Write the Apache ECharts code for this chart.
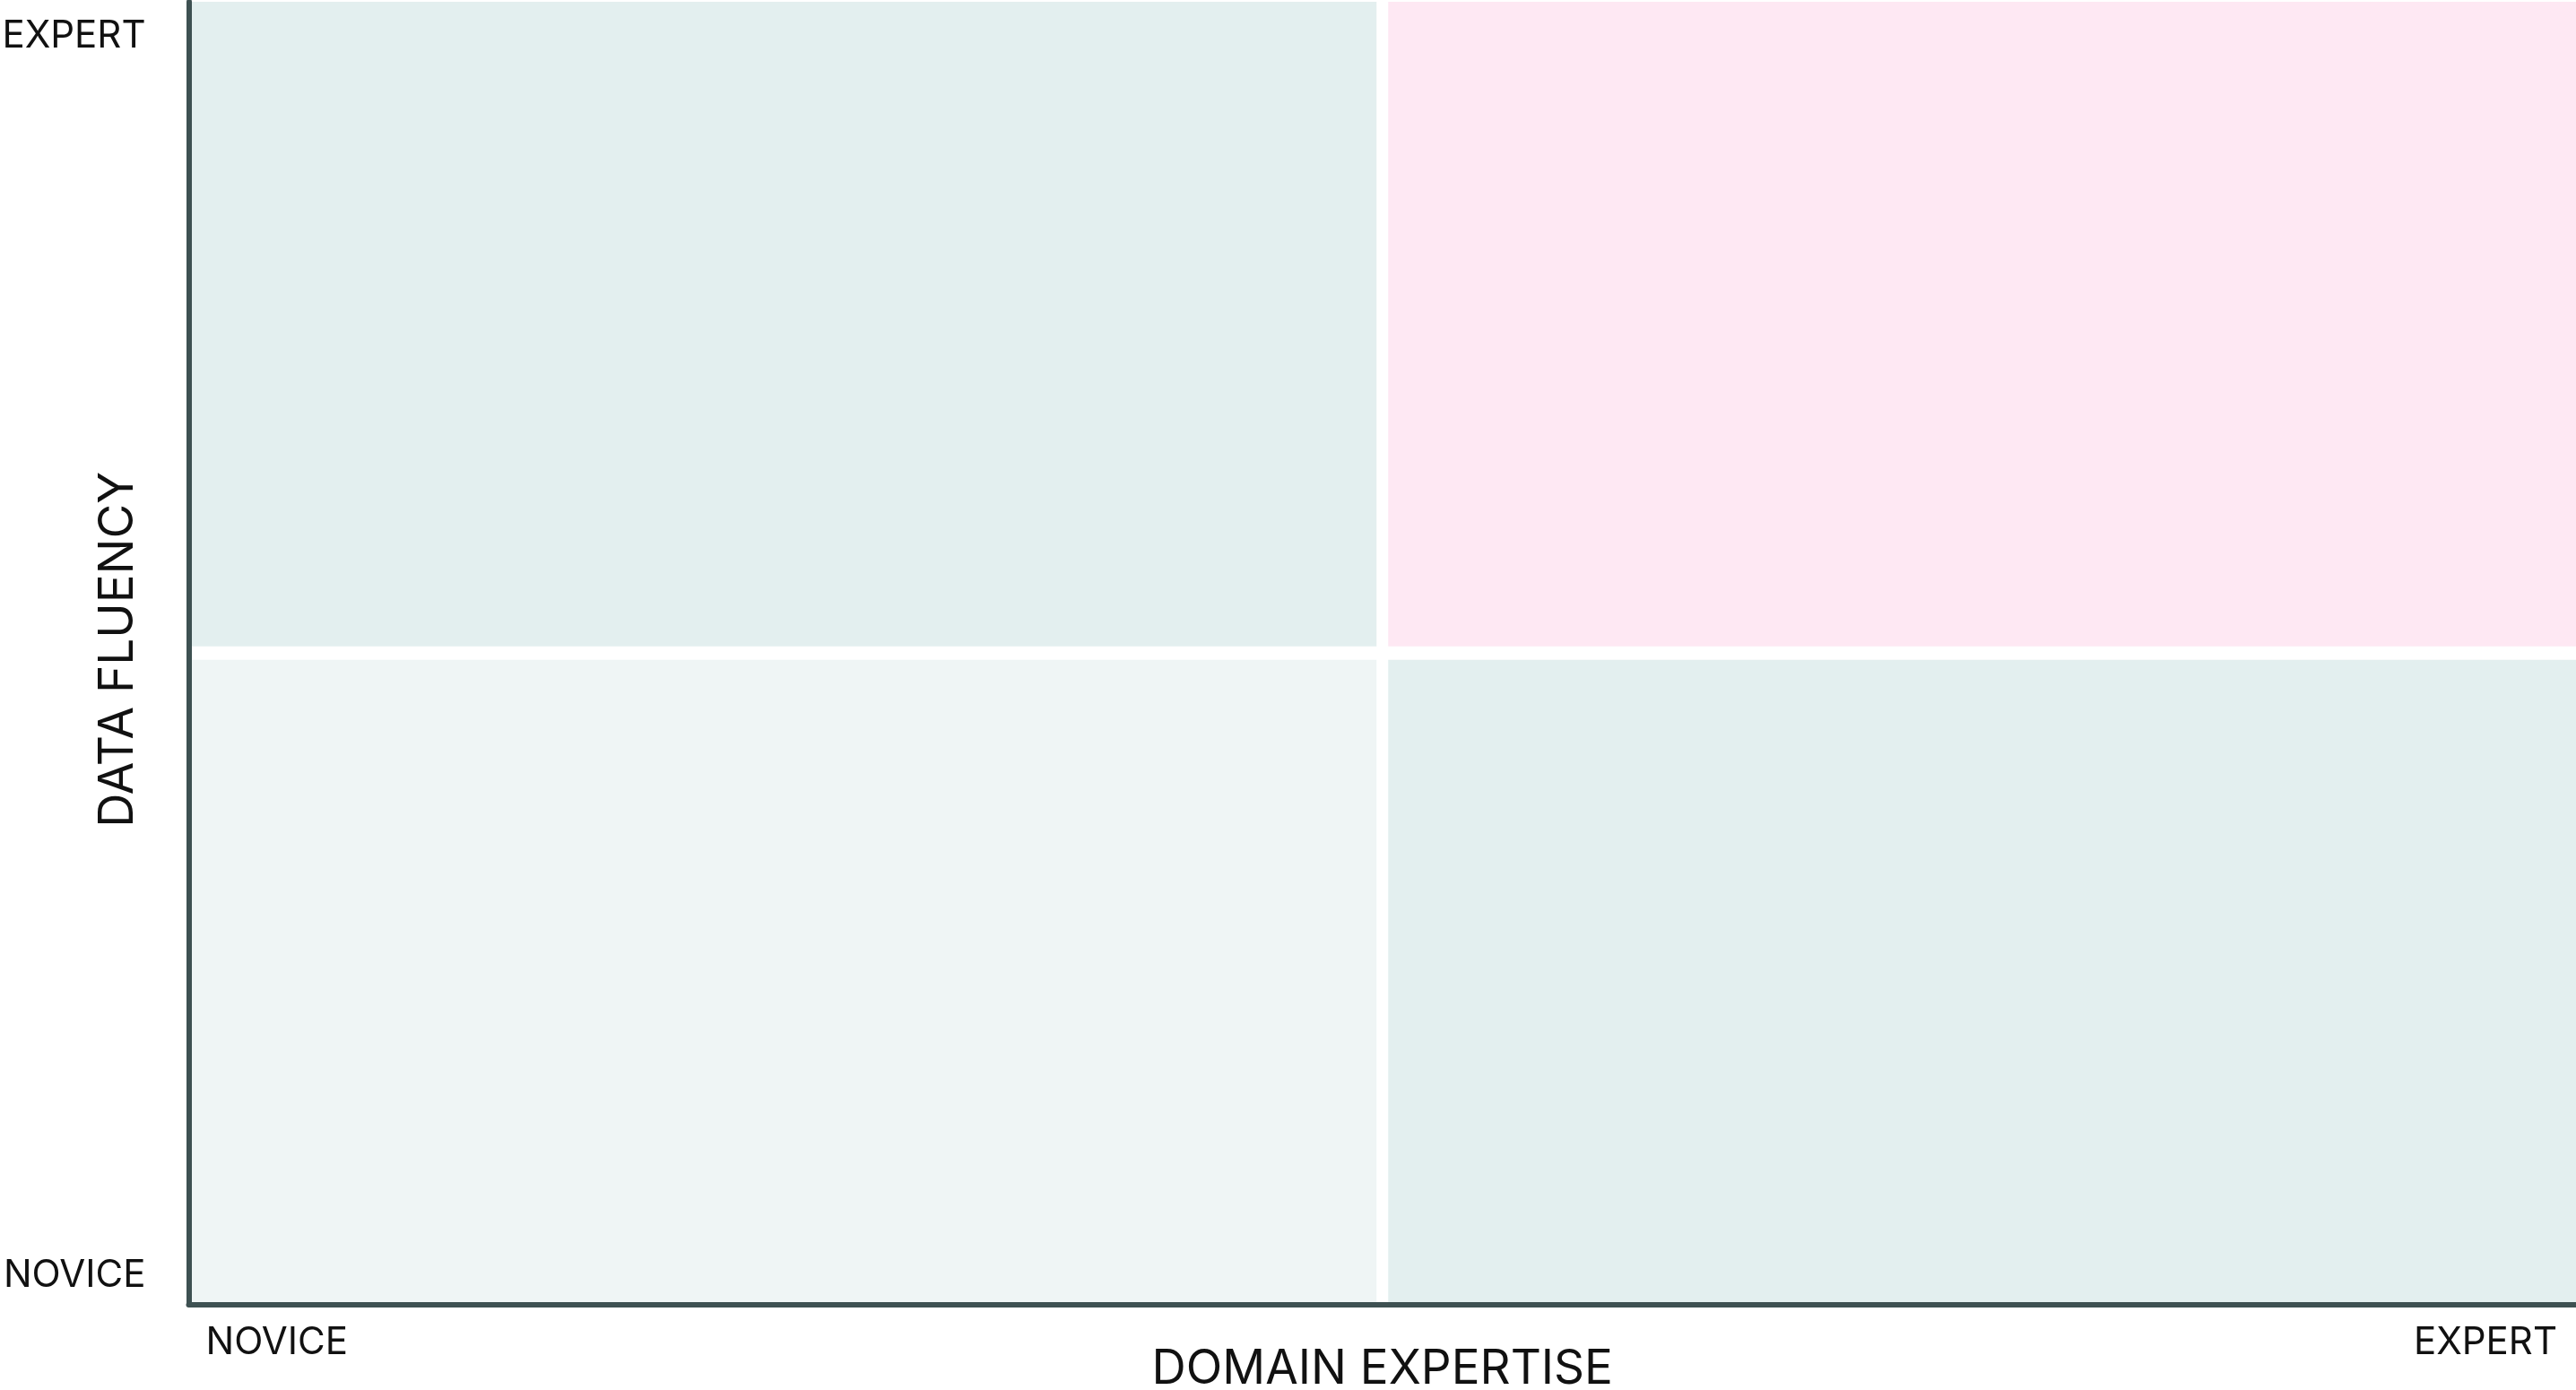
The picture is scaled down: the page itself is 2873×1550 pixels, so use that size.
<!DOCTYPE html>
<html>
<head>
<meta charset="utf-8">
<script src="https://cdn.jsdelivr.net/npm/echarts@6/dist/echarts.min.js"></script>
<style>
  html, body { margin: 0; padding: 0; background: #ffffff; }
  #chart { width: 2873px; height: 1550px; }
</style>
</head>
<body>
<div id="chart"></div>
<script>
// ---- data ----
const xTickLabels = ['NOVICE', 'EXPERT'];
const yTickLabels = ['NOVICE', 'EXPERT'];
const xAxisTitle = 'DOMAIN EXPERTISE';
const yAxisTitle = 'DATA FLUENCY';
const axisRange = [0, 100];
const quadrantNames = ['low-low', 'high-low', 'low-high', 'high-high'];
const quadrantX = [[0, 50], [50, 100], [0, 50], [50, 100]];
const quadrantY = [[0, 50], [0, 50], [50, 100], [50, 100]];

// ---- style ----
const quadrantColors = ['#eff5f5', '#e3efef', '#e3efef', '#fee8f3'];
const axisColor = '#3e5152';
const textColor = '#111111';
const font = 'Inter';

const chart = echarts.init(document.getElementById('chart'));

const seriesData = quadrantNames.map((n, i) => ({
  name: n,
  value: [quadrantX[i][0], quadrantX[i][1], quadrantY[i][0], quadrantY[i][1]]
}));

const gapX = 6.5, gapY = 7.5;

chart.setOption({
  animation: false,
  backgroundColor: '#ffffff',
  grid: { left: 210.5, right: 0, top: 2, bottom: 95.5, containLabel: false, outerBoundsMode: 'none' },
  xAxis: {
    type: 'value', min: axisRange[0], max: axisRange[1], interval: axisRange[1] - axisRange[0],
    z: 10,
    splitLine: { show: false }, axisTick: { show: false },
    axisLine: { show: true, lineStyle: { color: axisColor, width: 6 } },
    axisLabel: {
      margin: 22, fontSize: 42, lineHeight: 42, fontFamily: font, color: textColor,
      padding: [0, 21, 0, 19],
      alignMinLabel: 'left', alignMaxLabel: 'right',
      formatter: v => xTickLabels[v === axisRange[0] ? 0 : 1]
    },
    name: xAxisTitle, nameLocation: 'middle', nameGap: 46, nameMoveOverlap: false,
    nameTextStyle: { fontSize: 53, lineHeight: 53, fontFamily: font, color: textColor }
  },
  yAxis: {
    type: 'value', min: axisRange[0], max: axisRange[1], interval: axisRange[1] - axisRange[0],
    z: 10,
    splitLine: { show: false }, axisTick: { show: false },
    axisLine: { show: true, lineStyle: { color: axisColor, width: 6 } },
    axisLabel: {
      margin: 48, fontSize: 42, lineHeight: 42, fontFamily: font, color: textColor,
      padding: [17, 0, 11, 0],
      verticalAlignMinLabel: 'bottom', verticalAlignMaxLabel: 'top',
      formatter: v => yTickLabels[v === axisRange[0] ? 0 : 1]
    },
    name: yAxisTitle, nameLocation: 'middle', nameGap: 52, nameMoveOverlap: false,
    nameTextStyle: { fontSize: 53, lineHeight: 53, fontFamily: font, color: textColor, padding: [0, 0, 0, 8] }
  },
  series: [{
    type: 'custom',
    z: 2,
    clip: false,
    data: seriesData,
    renderItem: function (params, api) {
      const x0 = api.value(0), x1 = api.value(1), y0 = api.value(2), y1 = api.value(3);
      const pTL = api.coord([x0, y1]);
      const pBR = api.coord([x1, y0]);
      let left = pTL[0], top = pTL[1], right = pBR[0], bottom = pBR[1];
      if (x0 > axisRange[0]) left += gapX;
      if (x1 < axisRange[1]) right -= gapX;
      if (y0 > axisRange[0]) bottom -= gapY;
      if (y1 < axisRange[1]) top += gapY;
      return {
        type: 'rect',
        shape: { x: left, y: top, width: right - left, height: bottom - top },
        style: { fill: quadrantColors[params.dataIndex] }
      };
    }
  }]
});
</script>
</body>
</html>
